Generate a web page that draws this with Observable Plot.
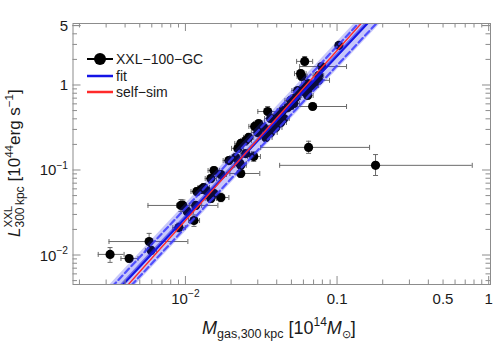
<!DOCTYPE html>
<html><head><meta charset="utf-8">
<script src="https://cdn.jsdelivr.net/npm/d3@7"></script>
<script src="https://cdn.jsdelivr.net/npm/@observablehq/plot@0.6"></script>
<style>
body{margin:0;background:#fff;}
#chart svg{display:block;font-family:"Liberation Sans",Arial,Helvetica,sans-serif;}
</style>
</head><body><div id="chart"></div>
<script>
// XXL-100-GC clusters: gas mass within 300 kpc [1e14 Msun] and luminosity [1e44 erg/s]
const mgas   = [0.102,0.0607,0.0571,0.058,0.0785,0.075,0.0695,0.0644,0.0616,0.0635,0.0546,0.053,0.0491,0.0514,0.0469,0.0435,0.0685,0.0346,0.0442,0.0422,0.0403,0.0362,0.0391,0.0362,0.0336,0.0302,0.0284,0.0326,0.0298,0.0259,0.0248,0.023,0.022,0.0248,0.028,0.0213,0.0192,0.023,0.023,0.0153,0.0146,0.0131,0.0118,0.0126,0.0136,0.0153,0.017,0.0146,0.0116,0.00927,0.00955,0.0102,0.0113,0.00899,0.00572,0.00589,0.00316,0.00422,0.178,0.0644,0.017,0.0491,0.0597,0.0635,0.0227,0.075];
const lum    = [2.96,1.92,1.38,1.28,1.67,1.15,1.0,0.922,0.828,0.763,0.873,0.722,0.667,0.614,0.551,0.508,0.566,0.494,0.409,0.367,0.444,0.409,0.321,0.28,0.245,0.357,0.33,0.321,0.28,0.245,0.225,0.208,0.182,0.158,0.146,0.142,0.131,0.115,0.0922,0.1,0.0805,0.0631,0.0566,0.0598,0.0582,0.0536,0.0481,0.0469,0.0388,0.0388,0.0388,0.033,0.0258,0.0213,0.0146,0.0115,0.0103,0.00922,0.115,0.187,0.0897,0.582,0.922,1.056,0.121,1.31];
const mgasLo = [0.097,0.0537,0.052,0.054,0.0562,0.0635,0.064,0.059,0.057,0.058,0.05,0.049,0.045,0.047,0.043,0.04,0.0491,0.0298,0.041,0.039,0.037,0.033,0.036,0.033,0.031,0.028,0.026,0.03,0.027,0.024,0.023,0.021,0.02,0.023,0.0255,0.0195,0.0176,0.021,0.0195,0.014,0.0134,0.012,0.0108,0.0115,0.0124,0.014,0.015,0.0134,0.0106,0.00562,0.0087,0.0093,0.0104,0.0082,0.00311,0.0054,0.00264,0.00373,0.0415,0.0311,0.0156,0.045,0.055,0.058,0.021,0.069];
const mgasHi = [0.107,0.0685,0.062,0.063,0.1146,0.0885,0.075,0.07,0.067,0.069,0.059,0.057,0.053,0.056,0.051,0.047,0.1146,0.0403,0.048,0.046,0.044,0.04,0.043,0.04,0.037,0.033,0.031,0.035,0.033,0.028,0.027,0.025,0.024,0.027,0.031,0.0233,0.021,0.025,0.0307,0.0167,0.0159,0.0143,0.0129,0.0138,0.0149,0.0167,0.0192,0.0159,0.0127,0.01625,0.0105,0.0112,0.0123,0.0099,0.0103,0.0064,0.00391,0.00483,0.773,0.1626,0.0185,0.053,0.065,0.069,0.025,0.081];
const lumLo  = [2.8,1.68,1.25,1.16,1.55,1.05,0.92,0.85,0.76,0.7,0.8,0.66,0.61,0.56,0.5,0.46,0.52,0.409,0.37,0.33,0.4,0.37,0.29,0.25,0.22,0.32,0.3,0.29,0.25,0.22,0.2,0.19,0.165,0.143,0.128,0.128,0.118,0.104,0.083,0.09,0.072,0.057,0.051,0.054,0.052,0.048,0.043,0.042,0.035,0.033,0.033,0.03,0.022,0.019,0.0115,0.0103,0.0083,0.0084,0.0873,0.159,0.081,0.53,0.85,0.97,0.109,1.19];
const lumHi  = [3.12,2.19,1.52,1.4,1.8,1.26,1.09,1.0,0.9,0.83,0.95,0.79,0.73,0.67,0.6,0.56,0.62,0.566,0.45,0.4,0.49,0.45,0.35,0.31,0.27,0.39,0.36,0.35,0.31,0.27,0.25,0.23,0.2,0.174,0.166,0.157,0.145,0.127,0.102,0.111,0.09,0.07,0.063,0.066,0.065,0.06,0.054,0.052,0.043,0.0456,0.045,0.037,0.03,0.024,0.0182,0.0128,0.0124,0.0101,0.154,0.221,0.099,0.64,1.0,1.15,0.134,1.44];

// best fit (blue) and self-similar (red) relations: L = norm * (M/pivot)^slope
const fitPivot = 0.1, fitNorm = 2.26, fitSlope = 1.906;
const fitErr = 0.03, fitScatter = 0.113, fitBand = 0.163; // dex
const selfNorm = 2.62, selfSlope = 2.0;

const xDomain = [0.0018, 1.02];
const yDomain = [0.00456, 5.36];
const xTickValues = [0.01, 0.1, 0.5, 1];
const xTickText = ["10^−2", "0.1", "0.5", "1"];
const yTickValues = [5, 1, 0.1, 0.01];
const yTickText = ["5", "1", "10^−1", "10^−2"];
const legendLabels = ["XXL−100−GC", "fit", "self−sim"];

const pts = mgas.map((m, i) => ({m, l: lum[i], mlo: mgasLo[i], mhi: mgasHi[i], llo: lumLo[i], lhi: lumHi[i]}));
const line = xDomain.map(m => {
  const c = fitNorm * Math.pow(m / fitPivot, fitSlope);
  return {m, c, s: selfNorm * Math.pow(m / fitPivot, selfSlope),
    e0: c * Math.pow(10, -fitErr), e1: c * Math.pow(10, fitErr),
    d0: c * Math.pow(10, -fitScatter), d1: c * Math.pow(10, fitScatter),
    b0: c * Math.pow(10, -fitBand), b1: c * Math.pow(10, fitBand)};
});

const hbar = {draw(ctx, size) { const r = Math.sqrt(size / Math.PI); ctx.moveTo(-r, 0); ctx.lineTo(r, 0); }};
const vbar = {draw(ctx, size) { const r = Math.sqrt(size / Math.PI); ctx.moveTo(0, -r); ctx.lineTo(0, r); }};
const ebColor = "#6a6a6a";

const chart = Plot.plot({
  width: 500, height: 343,
  marginLeft: 72.5, marginRight: 10, marginTop: 23, marginBottom: 59,
  x: {type: "log", domain: xDomain, axis: null},
  y: {type: "log", domain: yDomain, axis: null},
  style: {background: "#fff"},
  marks: [
    Plot.ruleY(pts, {y: "l", x1: "mlo", x2: "mhi", stroke: ebColor, strokeWidth: 1}),
    Plot.ruleX(pts, {x: "m", y1: "llo", y2: "lhi", stroke: ebColor, strokeWidth: 1}),
    Plot.dot(pts, {x: "mlo", y: "l", symbol: vbar, r: 2.5, stroke: ebColor, strokeWidth: 1}),
    Plot.dot(pts, {x: "mhi", y: "l", symbol: vbar, r: 2.5, stroke: ebColor, strokeWidth: 1}),
    Plot.dot(pts, {x: "m", y: "llo", symbol: hbar, r: 2.5, stroke: ebColor, strokeWidth: 1}),
    Plot.dot(pts, {x: "m", y: "lhi", symbol: hbar, r: 2.5, stroke: ebColor, strokeWidth: 1}),
    Plot.dot(pts, {x: "m", y: "l", r: 4.6, fill: "#000"}),
    Plot.areaY(line, {x: "m", y1: "b0", y2: "b1", fill: "#2a2ae6", fillOpacity: 0.26, clip: true}),
    Plot.areaY(line, {x: "m", y1: "e0", y2: "e1", fill: "#2020e0", fillOpacity: 0.55, clip: true}),
    Plot.line(line, {x: "m", y: "d0", stroke: "#3b3bff", strokeWidth: 2.2, strokeDasharray: "6,3.5", strokeOpacity: 0.85, clip: true}),
    Plot.line(line, {x: "m", y: "d1", stroke: "#3b3bff", strokeWidth: 2.2, strokeDasharray: "6,3.5", strokeOpacity: 0.85, clip: true}),
    Plot.line(line, {x: "m", y: "c", stroke: "#1414e6", strokeWidth: 2, clip: true}),
    Plot.line(line, {x: "m", y: "s", stroke: "#ff2a2a", strokeWidth: 1.4, clip: true}),
    Plot.frame({stroke: "#8c8c8c", strokeWidth: 1})
  ]
});
document.getElementById("chart").appendChild(chart);

const svg = d3.select(chart);
const sx = chart.scale("x"), sy = chart.scale("y");
const X0 = 72.5, X1 = 490, Y0 = 23, Y1 = 284;
const tickColor = "#8c8c8c";
const tg = svg.append("g").attr("stroke", tickColor).attr("stroke-width", 1);
const isMajor = v => Math.abs(Math.log10(v) - Math.round(Math.log10(v))) < 1e-6;
d3.scaleLog().domain(xDomain).ticks().forEach(v => {
  const px = sx.apply(v), len = isMajor(v) ? 8 : 4.5;
  if (px < X0 + 1 || px > X1 + 0.5) return;
  tg.append("line").attr("x1", px).attr("x2", px).attr("y1", Y1).attr("y2", Y1 - len);
  tg.append("line").attr("x1", px).attr("x2", px).attr("y1", Y0).attr("y2", Y0 + len);
});
d3.scaleLog().domain(yDomain).ticks().concat([5]).forEach(v => {
  const py = sy.apply(v), len = (isMajor(v) || v === 5) ? 8 : 4.5;
  if (py < Y0 - 0.5 || py > Y1 - 1) return;
  tg.append("line").attr("y1", py).attr("y2", py).attr("x1", X0).attr("x2", X0 + len);
  tg.append("line").attr("y1", py).attr("y2", py).attr("x1", X1).attr("x2", X1 - len);
});

function richLabel(sel, str, size) {
  const parts = str.split("^");
  sel.append("tspan").text(parts[0]);
  if (parts[1]) {
    sel.append("tspan").attr("font-size", size * 0.68).attr("dy", -size * 0.45).text(parts[1]);
  }
}
xTickValues.forEach((v, i) => {
  const t = svg.append("text").attr("x", sx.apply(v)).attr("y", 303.5)
    .attr("text-anchor", "middle").attr("font-size", 15).attr("fill", "#1a1a1a");
  richLabel(t, xTickText[i], 15);
});
yTickValues.forEach((v, i) => {
  const t = svg.append("text").attr("x", 68).attr("y", sy.apply(v) + 5.5)
    .attr("text-anchor", "end").attr("font-size", 15).attr("fill", "#1a1a1a");
  richLabel(t, yTickText[i], 15);
});

// x axis title
const xl = svg.append("text").attr("x", 202).attr("y", 334).attr("text-anchor", "start")
  .attr("font-size", 18).attr("fill", "#1a1a1a");
xl.append("tspan").attr("font-style", "italic").text("M");
xl.append("tspan").attr("font-size", 12.5).attr("dy", 4).text("gas,300\u2009kpc");
xl.append("tspan").attr("dx", 5).attr("dy", -4).text("[10");
xl.append("tspan").attr("font-size", 12).attr("dy", -8).text("14");
xl.append("tspan").attr("font-style", "italic").attr("dy", 8).text("M");
xl.append("tspan").attr("font-size", 11).attr("dy", 4).text("⊙");
xl.append("tspan").attr("dy", -4).text("]");

// y axis title
const yl = svg.append("text").attr("transform", "translate(20,237) rotate(-90)").attr("text-anchor", "start")
  .attr("font-size", 17).attr("fill", "#1a1a1a");
yl.append("tspan").attr("font-style", "italic").text("L");
const subT = yl.append("tspan").attr("font-size", 12).attr("dy", 4).text("300\u2009kpc");
const w1 = subT.node().getComputedTextLength();
const supT = yl.append("tspan").attr("font-size", 11.5).attr("dx", -w1).attr("dy", -12).text("XXL");
const w2 = supT.node().getComputedTextLength();
yl.append("tspan").attr("dx", Math.max(0, w1 - w2) + 5).attr("dy", 8).text("[10");
yl.append("tspan").attr("font-size", 11.5).attr("dy", -7).text("44");
yl.append("tspan").attr("dy", 7).text("erg s");
yl.append("tspan").attr("font-size", 11.5).attr("dy", -7).text("−1");
yl.append("tspan").attr("dy", 7).text("]");

// legend
const lg = svg.append("g");
const legendColors = ["#000", "#1414e6", "#ff2a2a"];
const legendY = [59, 76, 92];
legendLabels.forEach((lab, i) => {
  lg.append("line").attr("x1", 87).attr("x2", 113).attr("y1", legendY[i]).attr("y2", legendY[i])
    .attr("stroke", legendColors[i]).attr("stroke-width", i === 0 ? 2 : 2.5);
  if (i === 0) lg.append("circle").attr("cx", 100).attr("cy", legendY[i]).attr("r", 6).attr("fill", "#000");
  lg.append("text").attr("x", 116).attr("y", legendY[i] + 5).attr("text-anchor", "start")
    .attr("font-size", 14).attr("fill", "#1a1a1a").text(lab);
});
</script>
</body></html>
